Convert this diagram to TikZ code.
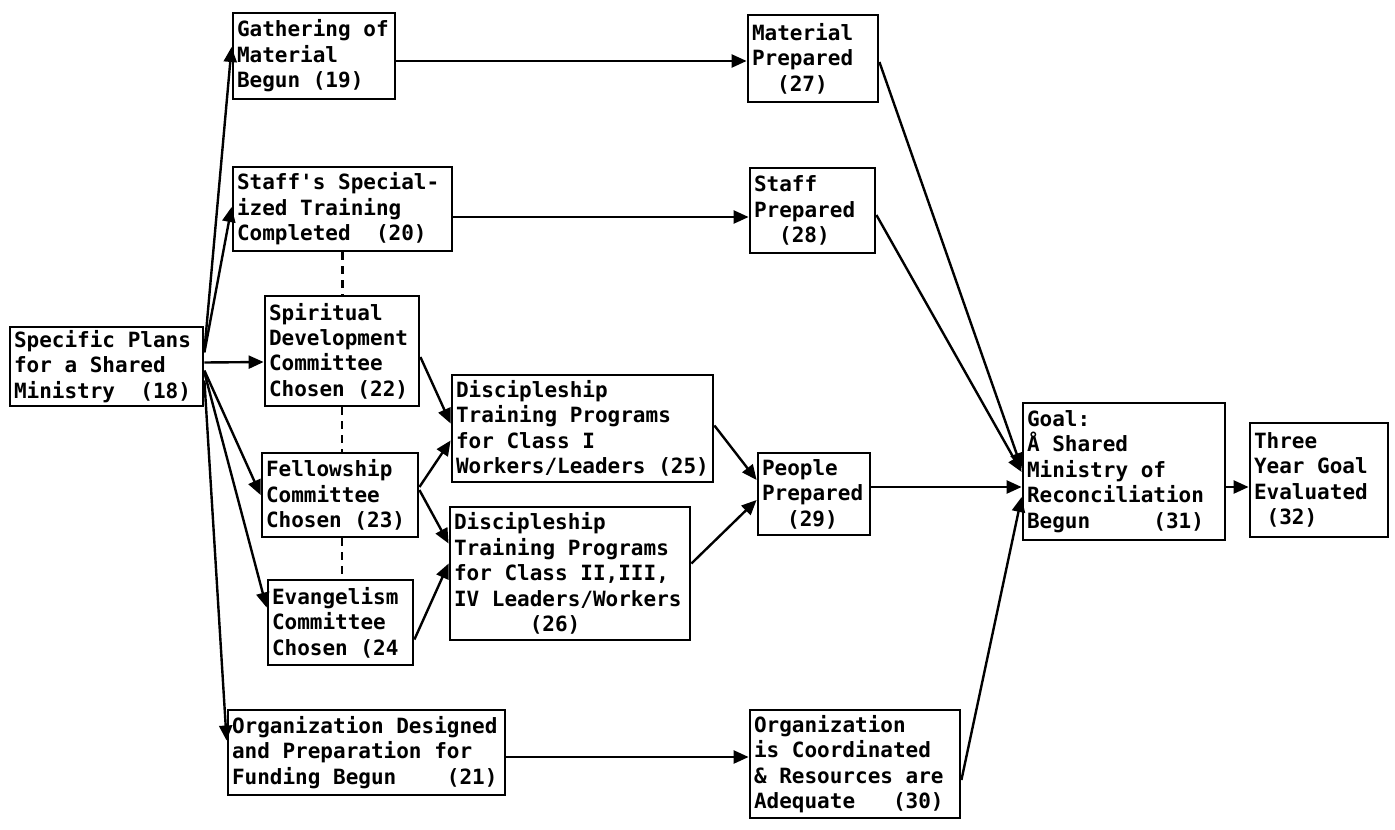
\documentclass[tikz,border=0pt]{standalone}
\usepackage{fontspec}
\newfontfamily\tw{DejaVu Sans Mono}
\usetikzlibrary{arrows.meta,calc}
\newcommand\twfont{\tw\bfseries\fontsize{10.5}{12.7}\selectfont}
\begin{document}
\begin{tikzpicture}[x=0.5pt,y=-0.5pt,
  box/.style={draw, line width=1.4pt, font=\twfont,
    align=flush left, inner xsep=2pt, inner ysep=1pt, anchor=center,
    execute at begin node={\spaceskip=6.32pt\relax\xspaceskip=6.32pt\relax}},
  arr/.style={line width=1.2pt, -{Triangle[length=7.5pt,width=6.5pt]}},
  dotline/.style={line width=1.3pt, dash pattern=on 4pt off 3pt}]
\useasboundingbox (0,0) rectangle (1395,829);
\fill[white] (0,0) rectangle (1395,829);
% column 1
\node[box, text width=92.5pt, minimum height=39.5pt] (n18) at (106.5,366.5)
  {Specific Plans\\for a Shared\\Ministry\ \ (18)};
% column 2
\node[box, text width=77pt, minimum height=43pt] (n19) at (314,56)
  {Gathering of\\Material\\Begun (19)};
\node[box, text width=105.5pt, minimum height=42pt] (n20) at (342.5,209)
  {Staff\symbol{39}s Special-\\ized Training\\Completed\ \ (20)};
\node[box, text width=73pt, minimum height=55pt] (n22) at (342,351)
  {Spiritual\\Development\\Committee\\Chosen (22)};
\node[box, text width=74pt, minimum height=42pt] (n23) at (340,495)
  {Fellowship\\Committee\\Chosen (23)};
\node[box, text width=68.5pt, minimum height=42.5pt] (n24) at (340.5,622.5)
  {Evangelism\\Committee\\Chosen (24};
\node[box, text width=134.5pt, minimum height=42.5pt] (n21) at (366.5,752.5)
  {Organization Designed\\and Preparation for\\Funding Begun\ \ \ \ (21)};
% column 3
\node[box, text width=126.5pt, minimum height=53.5pt] (n25) at (582.5,428.5)
  {Discipleship\\Training Programs\\for Class I\\Workers/Leaders (25)};
\node[box, text width=116pt, minimum height=66.5pt] (n26) at (570,573.5)
  {Discipleship\\Training Programs\\for Class II,III,\\IV Leaders/Workers\\\hspace*{37.9pt}(26)};
% column 4
\node[box, text width=61pt, minimum height=43.5pt] (n27) at (813,58.5)
  {Material\\Prepared\\\hspace*{12.6pt}(27)};
\node[box, text width=58.5pt, minimum height=42.5pt] (n28) at (812.5,210.5)
  {Staff\\Prepared\\\hspace*{12.6pt}(28)};
\node[box, text width=52pt, minimum height=41pt] (n29) at (814,494)
  {People\\Prepared\\\hspace*{12.6pt}(29)};
\node[box, text width=101pt, minimum height=54pt] (n30) at (855,764)
  {Organization\\is Coordinated\\\& Resources are\\Adequate\ \ \ (30)};
% column 5
\node[box, text width=97pt, minimum height=68.5pt] (n31) at (1124,471.5)
  {Goal:\\Å Shared\\Ministry of\\Reconciliation\\Begun\ \ \ \ \ (31)};
\node[box, text width=65pt, minimum height=57pt] (n32) at (1319,480)
  {Three\\Year Goal\\Evaluated\\\hspace*{6.3pt}(32)};
% dotted links
\draw[dotline] (n20.south) -- (n22.north -| n20.south);
\draw[dotline] (n22.south) -- (n23.north -| n22.south);
\draw[dotline] (n23.south -| n22.south) -- (n24.north -| n22.south);
% arrows from 18
\draw[arr] ($(n18.east)+(0,-16)$) -- ($(n19.west)+(0,-9)$);
\draw[arr] ($(n18.east)+(0,-14)$) -- ($(n20.west)+(0,-2)$);
\draw[arr] ($(n18.east)+(0,-4)$) -- ($(n22.west)+(0,11)$);
\draw[arr] ($(n18.east)+(0,4)$) -- (n23.west);
\draw[arr] ($(n18.east)+(0,6)$) -- ($(n24.west)+(0,-15)$);
\draw[arr] ($(n18.east)+(0,14)$) -- ($(n21.west)+(0,-12)$);
% committees to programs
\draw[arr] ($(n22.east)+(0,6)$) -- ($(n25.west)+(0,-5)$);
\draw[arr] ($(n23.east)+(0,-8)$) -- ($(n25.west)+(0,12)$);
\draw[arr] ($(n23.east)+(0,-5)$) -- ($(n26.west)+(0,-30)$);
\draw[arr] ($(n24.east)+(0,17)$) -- ($(n26.west)+(0,-10)$);
% programs to people
\draw[arr] ($(n25.east)+(0,-3)$) -- ($(n29.west)+(0,-14)$);
\draw[arr] ($(n26.east)+(0,-10)$) -- ($(n29.west)+(0,6)$);
% horizontal arrows
\draw[arr] ($(n19.east)+(0,5)$) -- ($(n27.west)+(0,2.5)$);
\draw[arr] ($(n20.east)+(0,8)$) -- ($(n28.west)+(0,6.5)$);
\draw[arr] ($(n21.east)+(0,4.5)$) -- ($(n30.west)+(0,-7)$);
% to goal
\draw[arr] ($(n27.east)+(0,3.5)$) -- ($(n31.west)+(0,-3.5)$);
\draw[arr] ($(n28.east)+(0,4.5)$) -- ($(n31.west)+(0,0.5)$);
\draw[arr] ($(n29.east)+(0,-7)$) -- ($(n31.west)+(0,15.5)$);
\draw[arr] ($(n30.east)+(0,16)$) -- ($(n31.west)+(0,25.5)$);
\draw[arr] ($(n31.east)+(0,15.5)$) -- ($(n32.west)+(0,7)$);
\end{tikzpicture}
\end{document}
